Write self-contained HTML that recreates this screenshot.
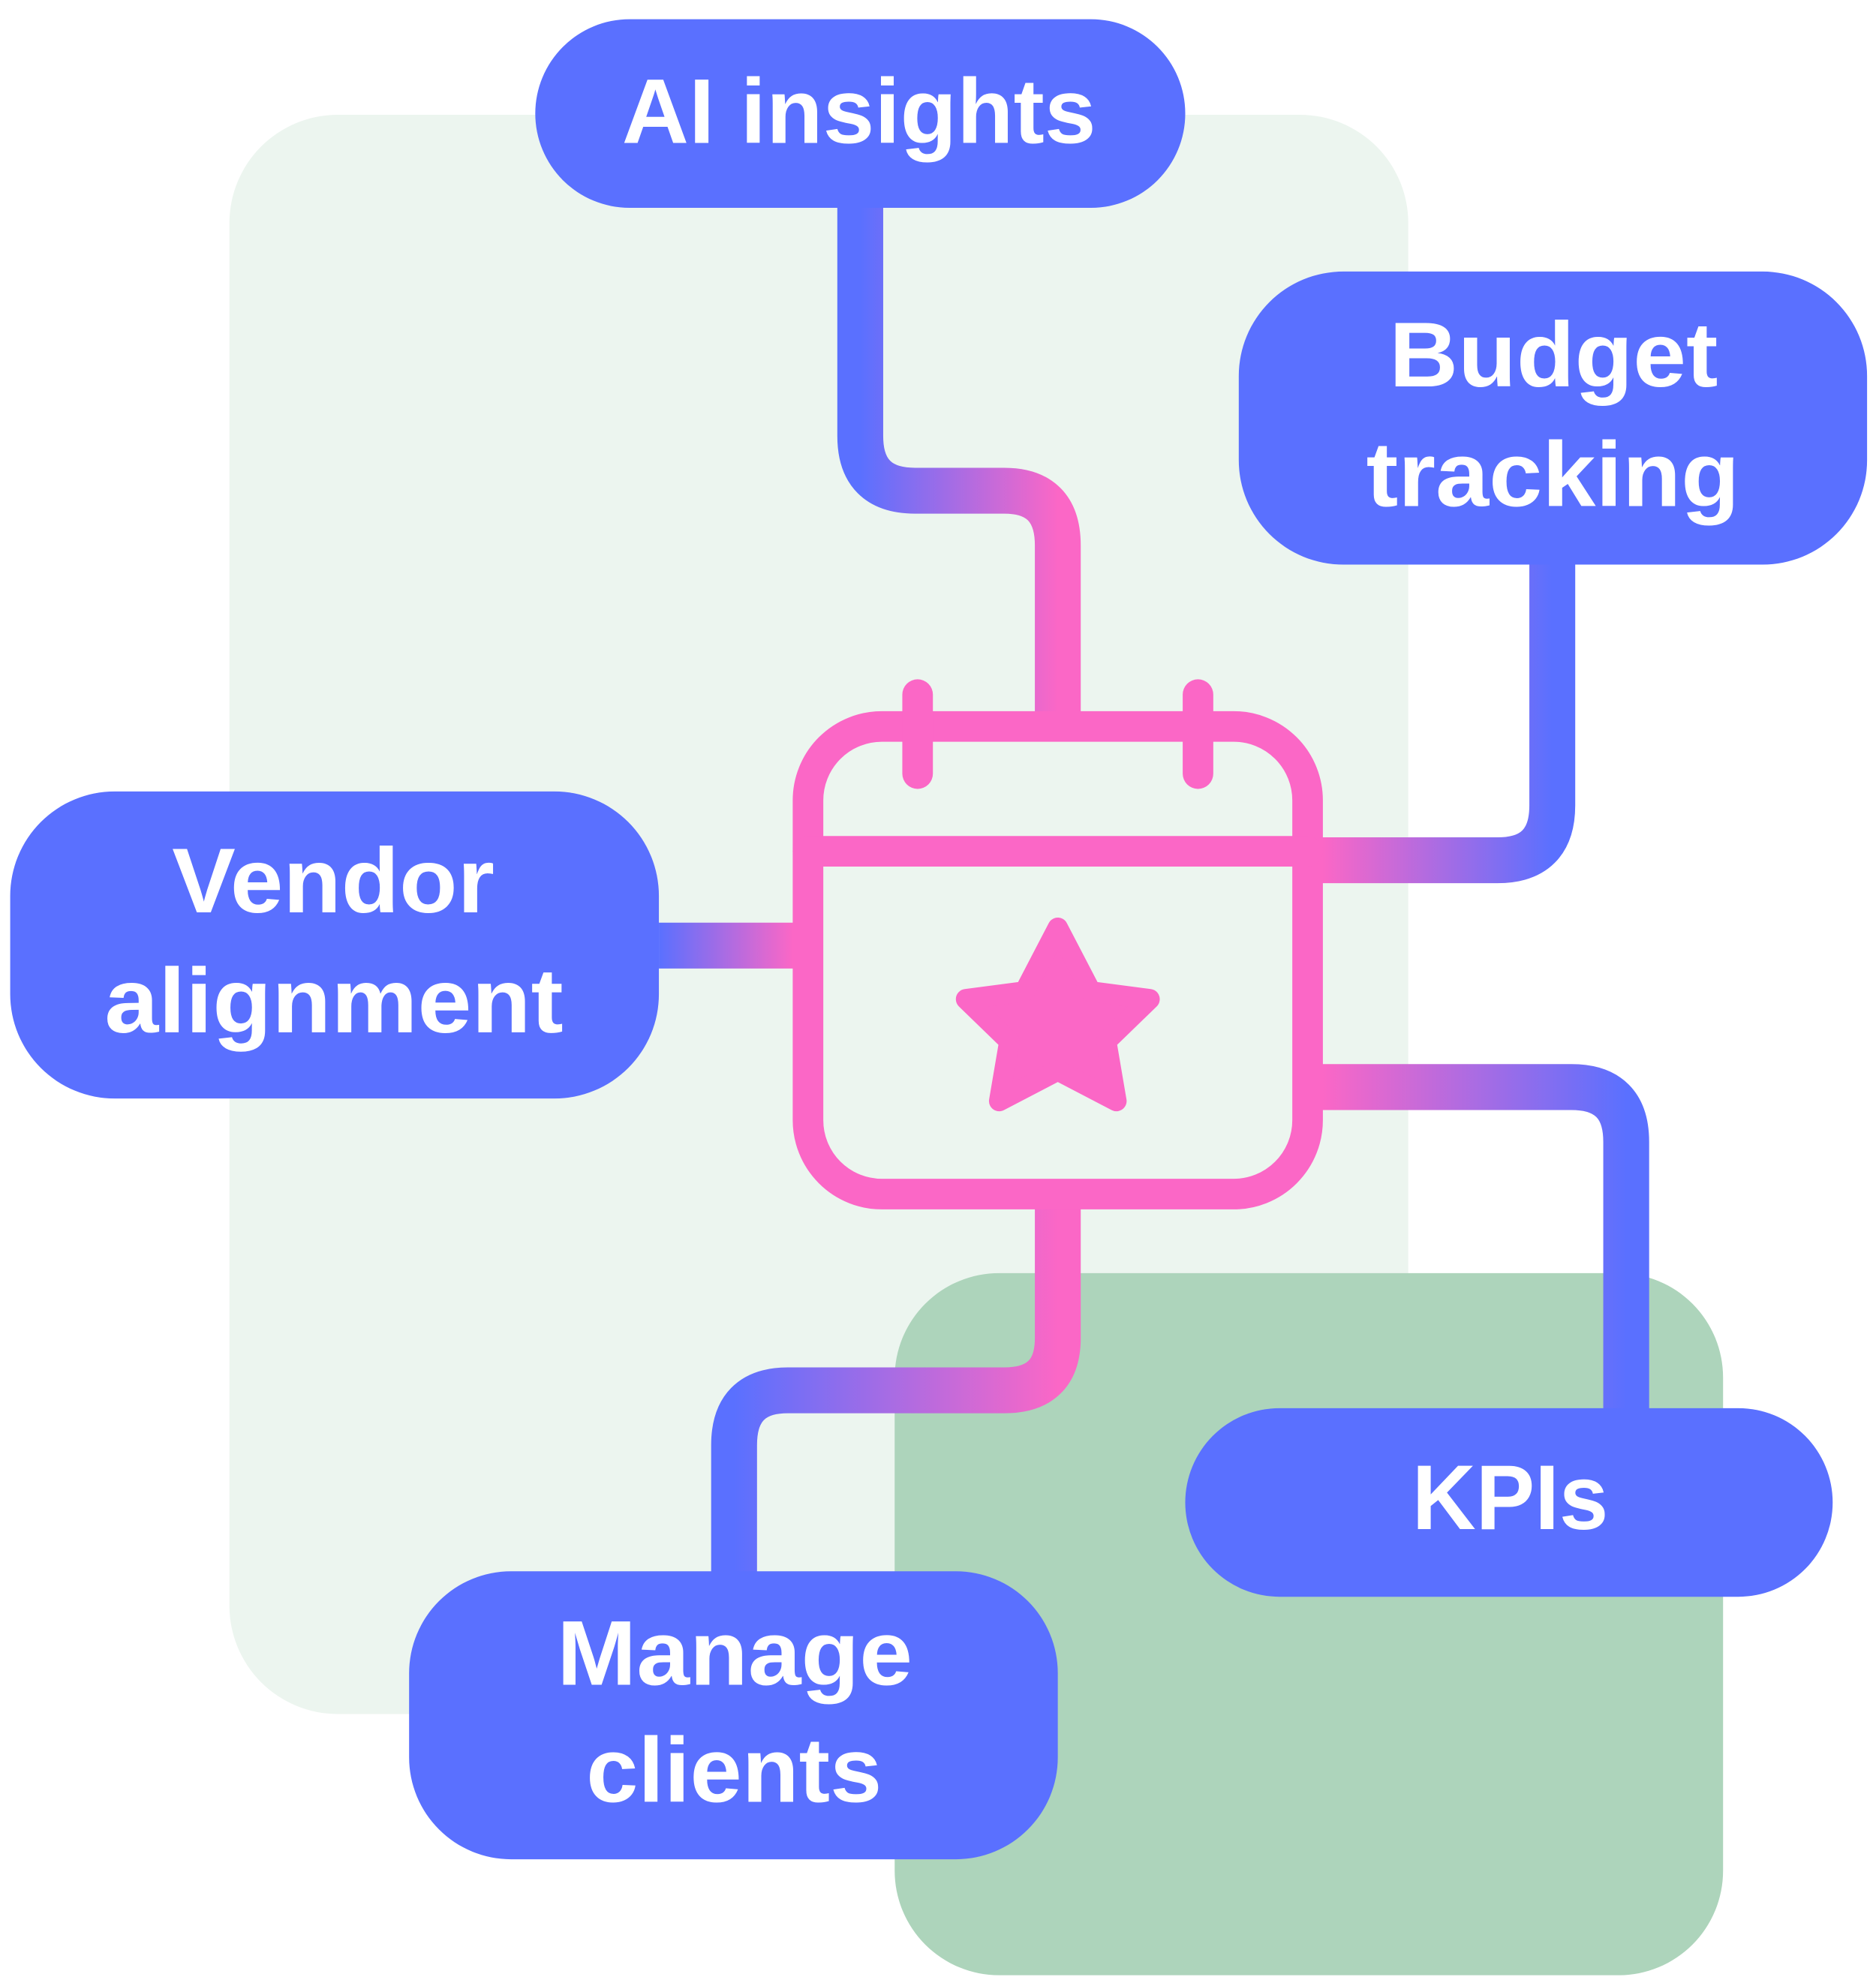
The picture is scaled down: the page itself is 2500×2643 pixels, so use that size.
<!DOCTYPE html>
<html><head><meta charset="utf-8"><style>
html,body{margin:0;padding:0;background:#fff;}
svg{display:block;}
text{font-family:"Liberation Sans",sans-serif;font-weight:bold;fill:#fff;font-size:72px;}
</style></head><body>
<svg width="2500" height="2643" viewBox="0 0 1472 1556" xmlns="http://www.w3.org/2000/svg">
<defs>
<linearGradient id="gAI" gradientUnits="userSpaceOnUse" x1="675" y1="0" x2="830" y2="0"><stop offset="0" stop-color="#5a70ff"/><stop offset="1" stop-color="#fb67c6"/></linearGradient>
<linearGradient id="gBud" gradientUnits="userSpaceOnUse" x1="1218" y1="0" x2="1038" y2="0"><stop offset="0" stop-color="#5a70ff"/><stop offset="1" stop-color="#fb67c6"/></linearGradient>
<linearGradient id="gVen" gradientUnits="userSpaceOnUse" x1="517" y1="0" x2="622" y2="0"><stop offset="0" stop-color="#5a70ff"/><stop offset="1" stop-color="#fb67c6"/></linearGradient>
<linearGradient id="gKPI" gradientUnits="userSpaceOnUse" x1="1276" y1="0" x2="1038" y2="0"><stop offset="0" stop-color="#5a70ff"/><stop offset="1" stop-color="#fb67c6"/></linearGradient>
<linearGradient id="gMan" gradientUnits="userSpaceOnUse" x1="576" y1="0" x2="830" y2="0"><stop offset="0" stop-color="#5a70ff"/><stop offset="1" stop-color="#fb67c6"/></linearGradient>
</defs>
<rect x="180" y="90" width="925" height="1255" rx="85" fill="#ecf5ef"/>
<rect x="702" y="999" width="650" height="551" rx="82" fill="#add4bb"/>

<g fill="none" stroke-width="36">
<path d="M675 163 V342 Q675 385 718 385 H788 Q830 385 830 428 V570" stroke="url(#gAI)"/>
<path d="M1218 443 V632 Q1218 675 1175 675 H1030" stroke="url(#gBud)"/>
<path d="M517 742 H630" stroke="url(#gVen)"/>
<path d="M1030 853 H1233 Q1276 853 1276 896 V1110" stroke="url(#gKPI)"/>
<path d="M830 940 V1050 Q830 1091 788 1091 H618 Q576 1091 576 1134 V1236" stroke="url(#gMan)"/>
</g>

<g fill="none" stroke="#fb67c6" stroke-width="24" stroke-linecap="round">
<rect x="634" y="570" width="392" height="367" rx="58" fill="#ecf5ef"/>
<line x1="634" y1="668" x2="1026" y2="668"/>
<line x1="720" y1="545" x2="720" y2="607"/>
<line x1="940" y1="545" x2="940" y2="607"/>
</g>
<path d="M830 728 L856 778 L902 784 L868 817 L876 864 L830 840 L784 864 L792 817 L758 784 L804 778 Z" fill="#fb67c6" stroke="#fb67c6" stroke-width="16" stroke-linejoin="round"/>

<g fill="#5a70ff">
<rect x="420" y="15" width="510" height="148" rx="74"/>
<rect x="972" y="213" width="493" height="230" rx="82"/>
<rect x="8" y="621" width="509" height="241" rx="82"/>
<rect x="930" y="1105" width="508" height="148" rx="74"/>
<rect x="321" y="1233" width="509" height="226" rx="80"/>
</g>

<text x="488" y="112" textLength="372" lengthAdjust="spacingAndGlyphs">AI insights</text>
<text x="1090" y="303" textLength="258" lengthAdjust="spacingAndGlyphs">Budget</text>
<text x="1072" y="397" textLength="293" lengthAdjust="spacingAndGlyphs">tracking</text>
<text x="135" y="716" textLength="253" lengthAdjust="spacingAndGlyphs">Vendor</text>
<text x="82" y="810" textLength="360" lengthAdjust="spacingAndGlyphs">alignment</text>
<text x="1108" y="1200" textLength="154" lengthAdjust="spacingAndGlyphs">KPIs</text>
<text x="437" y="1322" textLength="279" lengthAdjust="spacingAndGlyphs">Manage</text>
<text x="460" y="1414" textLength="232" lengthAdjust="spacingAndGlyphs">clients</text>
</svg>
</body></html>
